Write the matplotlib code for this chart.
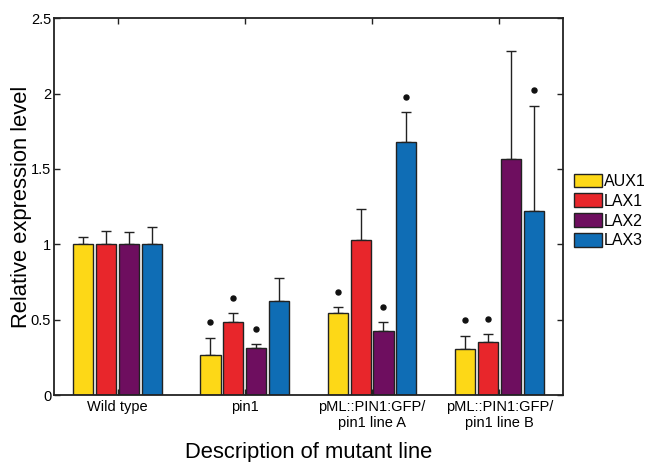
import matplotlib.pyplot as plt
import numpy as np

plt.rcParams['font.family'] = ['Liberation Sans', 'DejaVu Sans']

groups = ['Wild type', 'pin1', 'pML::PIN1:GFP/\npin1 line A', 'pML::PIN1:GFP/\npin1 line B']
genes = ['AUX1', 'LAX1', 'LAX2', 'LAX3']
colors = ['#FDD817', '#E8262B', '#6E0E5F', '#0F6DB5']

# mean values per gene (one list per gene, one entry per group)
aux1 = [1.0, 0.265, 0.548, 0.305]
lax1 = [1.0, 0.487, 1.03, 0.355]
lax2 = [1.0, 0.316, 0.428, 1.567]
lax3 = [1.0, 0.627, 1.68, 1.22]

# upper error bar extent
aux1_err = [0.052, 0.118, 0.038, 0.088]
lax1_err = [0.09, 0.06, 0.205, 0.05]
lax2_err = [0.083, 0.028, 0.058, 0.714]
lax3_err = [0.116, 0.148, 0.198, 0.70]

# significance markers (None = no marker)
aux1_sig = [None, 0.486, 0.685, 0.497]
lax1_sig = [None, 0.645, None, 0.504]
lax2_sig = [None, 0.442, 0.586, None]
lax3_sig = [None, None, 1.978, 2.02]

means = [aux1, lax1, lax2, lax3]
errs = [aux1_err, lax1_err, lax2_err, lax3_err]
sigs = [aux1_sig, lax1_sig, lax2_sig, lax3_sig]

fig = plt.figure(figsize=(6.5, 4.62), dpi=100)
ax = fig.add_axes([0.083, 0.144, 0.783, 0.817])

x = np.arange(1, len(groups) + 1)
pitch = 0.18
width = 0.158
for i, gene in enumerate(genes):
    pos = x + (i - 1.5) * pitch
    ax.bar(pos, means[i], width, color=colors[i], edgecolor='#222222',
           linewidth=1.0, label=gene, zorder=2)
    ax.errorbar(pos, means[i], yerr=[np.zeros(len(groups)), errs[i]],
                fmt='none', ecolor='#222222', elinewidth=1.0, capsize=3.5,
                capthick=1.0, zorder=1)
    for p, s in zip(pos, sigs[i]):
        if s is not None:
            ax.plot(p, s, 'o', color='#111111', markersize=3.6, zorder=3)

ax.set_xlim(0.5, 4.5)
ax.set_ylim(0, 2.5)
ax.set_yticks([0, 0.5, 1, 1.5, 2, 2.5])
ax.set_yticklabels(['0', '0.5', '1', '1.5', '2', '2.5'])
ax.set_xticks(x)
ax.set_xticklabels(groups, fontsize=10.5, linespacing=1.15)
ax.tick_params(axis='y', labelsize=10.5, pad=2)
ax.tick_params(direction='in', length=4, width=1.0, top=True, right=True,
               color='#222222')
for sp in ax.spines.values():
    sp.set_linewidth(1.3)
    sp.set_color('#222222')

ax.set_ylabel('Relative expression level', fontsize=15.8, labelpad=-1)
ax.set_xlabel('Description of mutant line', fontsize=15.8, labelpad=9)

ax.legend(loc='upper left', bbox_to_anchor=(1.01, 0.605), frameon=False,
          fontsize=11.5, handlelength=1.75, handleheight=0.95,
          handletextpad=0.1, labelspacing=0.28, borderaxespad=0)

fig.savefig('out.png', dpi=100)
